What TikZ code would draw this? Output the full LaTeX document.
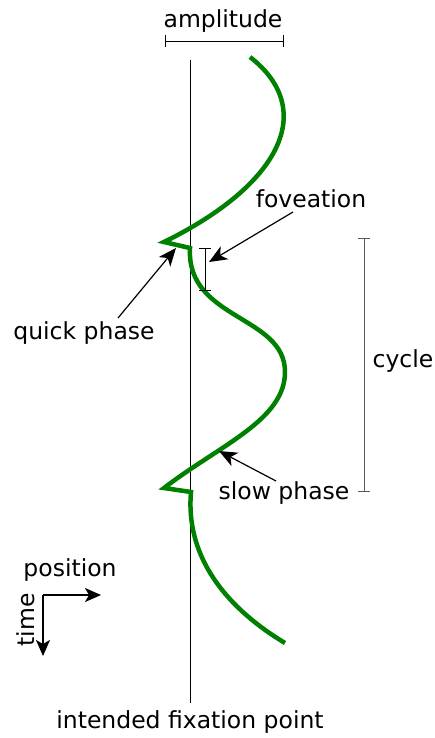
\documentclass[tikz,border=0pt]{standalone}
\usepackage{fontspec}
\setmainfont{DejaVu Sans}
\usetikzlibrary{arrows.meta}
\definecolor{trace}{RGB}{0,128,0}
\tikzset{
  pointer/.style={-{Stealth[length=18pt,width=15pt,inset=5pt]}, line width=1.2pt},
  axis/.style={-{Stealth[length=16pt,width=14pt,inset=4pt]}, line width=2pt},
  span/.style={{Bar[width=12pt]}-{Bar[width=12pt]}, line width=0.9pt},
}
\begin{document}
\begin{tikzpicture}[x=1pt, y=-1pt, font=\fontsize{23.5}{27}\selectfont]
    \useasboundingbox (0,0) rectangle (435,738);
    % fixation line
    \coordinate (F1) at (190,60);
    \coordinate (F2) at (190,703);
    \draw[line width=1pt] (F1) -- (F2);
    \node (fix) at (190,722) {intended fixation point};
    % eye position trace
    \coordinate (T0) at (250,57);
    \coordinate (Q1) at (164,242);
    \coordinate (R1) at (190,248);
    \coordinate (M1) at (285,372);
    \coordinate (Q2) at (164,488);
    \coordinate (R2) at (191,492);
    \coordinate (T3) at (285,643);
    \draw[trace, line width=4.5pt, line join=miter]
      (T0) .. controls (318,110) and (280,185) .. (Q1) -- (R1)
      .. controls (186,320) and (285,315) .. (M1)
      .. controls (285,420) and (220,445) .. (Q2) -- (R2)
      .. controls (185,560) and (230,610) .. (T3);
    % amplitude
    \coordinate (A1) at (165,41);
    \coordinate (A2) at (284,41);
    \draw[span] (A1) -- (A2);
    \node (amp) at (223,21) {amplitude};
    % foveation
    \coordinate (V1) at (205,248);
    \coordinate (V2) at (205,291);
    \draw[span] (V1) -- (V2);
    \node (fov) at (311,199) {foveation};
    \coordinate (V3) at (209,262);
    \draw[pointer] (293,212) -- (V3);
    % quick phase
    \node (quick) at (84,333) {quick phase};
    \coordinate (Q3) at (176,248);
    \draw[pointer] (118,318) -- (Q3);
    % cycle
    \coordinate (C1) at (364,238);
    \coordinate (C2) at (364,492);
    \draw[span, gray!70!black] (C1) -- (C2);
    \node (cyc) at (403,361) {cycle};
    % slow phase
    \node (slow) at (284,493) {slow phase};
    \coordinate (S1) at (219,451);
    \draw[pointer] (276,481) -- (S1);
    % axes
    \coordinate (O) at (43,595);
    \coordinate (X) at (101,595);
    \coordinate (Y) at (43,656);
    \draw[axis] (O) -- (X);
    \draw[axis] (O) -- (Y);
    \node (pos) at (70,570) {position};
    \node[rotate=90] (time) at (26,620) {time};
\end{tikzpicture}
\end{document}
